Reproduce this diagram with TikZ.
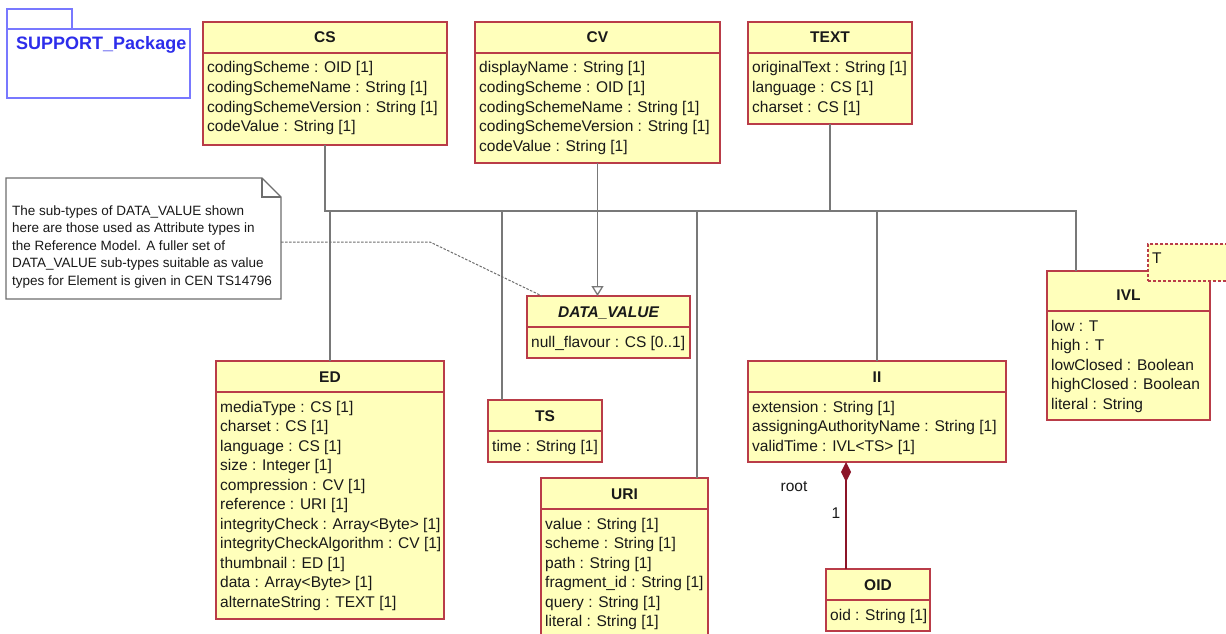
\documentclass[tikz,border=0pt]{standalone}
\usepackage{fontspec}
\setmainfont{Liberation Sans}
\usetikzlibrary{arrows.meta,calc}
\definecolor{clsfill}{RGB}{255,255,187}
\definecolor{clsborder}{RGB}{185,60,72}
\definecolor{conn}{RGB}{120,120,120}
\definecolor{pkgblue}{RGB}{120,120,255}
\definecolor{pkgtext}{RGB}{45,45,235}
\definecolor{compred}{RGB}{140,20,40}
\definecolor{txt}{RGB}{25,25,25}
\definecolor{notegray}{RGB}{110,110,110}
\tikzset{
  clsbox/.style={draw=clsborder, fill=clsfill, line width=1.4pt, rectangle, inner sep=0pt, outer sep=0pt, anchor=north west},
  tmplbox/.style={clsbox, dashed, dash pattern=on 3pt off 2pt},
  hdrline/.style={draw=clsborder, line width=1.2pt},
  clstitle/.style={font=\fontsize{15.5}{18}\selectfont\bfseries, text=txt, inner sep=0pt, anchor=base},
  attr/.style={font=\fontsize{15.5}{18}\selectfont, text=txt, inner sep=0pt, anchor=base west},
  notetxt/.style={font=\fontsize{13.5}{16}\selectfont, text=txt, inner sep=0pt, anchor=base west},
  gen/.style={draw=conn, line width=1.3pt},
  noteline/.style={draw=notegray, line width=1pt, dash pattern=on 2.5pt off 1.5pt},
  notebox/.style={draw=notegray, fill=white, line width=1.2pt},
  compline/.style={draw=compred, line width=1.4pt},
  pkgline/.style={draw=pkgblue, line width=1.3pt},
  holder/.style={inner sep=0pt, outer sep=0pt, anchor=north west, rectangle},
  lbl/.style={font=\fontsize{15.5}{18}\selectfont, text=txt, inner sep=0pt}
}
\newcommand{\umlclass}[9]{%
  \node[clsbox, minimum width=#4pt, minimum height=#5pt] (#1) at (#2,#3) {};
  \draw[hdrline] ($(#1.north west)+(0,#6)$) -- ($(#1.north east)+(0,#6)$);
  \node[clstitle] (#1-title) at ($(#1.north)+(0,{#6/2+5.5+#9})$) {#7};
  \foreach \a [count=\k from 0] in {#8} {
    \node[attr] (#1-a\k) at ($(#1.north west)+(4,{#6+20+\k*19.5})$) {\a};
  }%
}
\begin{document}
\begin{tikzpicture}[x=1pt,y=-1pt]
\clip (0,0) rectangle (1226,634);
\fill[white] (0,0) rectangle (1226,634);

% package
\node[holder, minimum width=183pt, minimum height=69pt] (pkg) at (7,29) {};
\draw[pkgline] (pkg.north west) rectangle (pkg.south east);
\draw[pkgline] (pkg.north west) rectangle ($(pkg.north west)+(65,-20)$);
\node[font=\fontsize{18}{20}\selectfont\bfseries, text=pkgtext, inner sep=0pt, anchor=base west] (pkgname) at ($(pkg.north west)+(9,20.5)$) {SUPPORT\_Package};

% note
\node[holder, minimum width=275pt, minimum height=121pt] (note) at (6,178) {};
\draw[notebox] (note.north west) -- ($(note.north east)+(-19,0)$) -- ($(note.north east)+(0,19)$) -- (note.south east) -- (note.south west) -- cycle;
\draw[draw=notegray, line width=1.2pt] ($(note.north east)+(-19,0)$) -- ($(note.north east)+(-19,19)$) -- ($(note.north east)+(0,19)$);
\foreach \a [count=\k from 0] in {{The sub-types of DATA\_VALUE shown},{here are those used as Attribute types in},{the Reference Model. A fuller set of},{DATA\_VALUE sub-types suitable as value},{types for Element is given in CEN TS14796}} {
  \node[notetxt] (note-l\k) at ($(note.north west)+(6,{37+\k*17.5})$) {\a};
}

% classes
\umlclass{cs}{203}{22}{244}{123}{31}{CS}{{codingScheme : OID [1]},{codingSchemeName : String [1]},{codingSchemeVersion : String [1]},{codeValue : String [1]}}{0}
\umlclass{cv}{475}{22}{245}{141}{31}{CV}{{displayName : String [1]},{codingScheme : OID [1]},{codingSchemeName : String [1]},{codingSchemeVersion : String [1]},{codeValue : String [1]}}{0}
\umlclass{text}{748}{22}{164}{102}{31}{TEXT}{{originalText : String [1]},{language : CS [1]},{charset : CS [1]}}{0}
\umlclass{dv}{527}{296}{163}{62}{31}{\itshape DATA\_VALUE}{{null\_flavour : CS [0..1]}}{0}
\umlclass{ed}{216}{361}{228}{258}{31}{ED}{{mediaType : CS [1]},{charset : CS [1]},{language : CS [1]},{size : Integer [1]},{compression : CV [1]},{reference : URI [1]},{integrityCheck : Array<Byte> [1]},{integrityCheckAlgorithm : CV [1]},{thumbnail : ED [1]},{data : Array<Byte> [1]},{alternateString : TEXT [1]}}{0}
\umlclass{ts}{488}{400}{114}{62}{31}{TS}{{time : String [1]}}{0}
\umlclass{uri}{541}{478}{167}{170}{31}{URI}{{value : String [1]},{scheme : String [1]},{path : String [1]},{fragment\_id : String [1]},{query : String [1]},{literal : String [1]}}{0}
\umlclass{ii}{748}{361}{258}{101}{31}{II}{{extension : String [1]},{assigningAuthorityName : String [1]},{validTime : IVL<TS> [1]}}{0}
\umlclass{oid}{826}{569}{104}{62}{31}{OID}{{oid : String [1]}}{0}
\umlclass{ivl}{1047}{271}{163}{149}{40}{IVL}{{low : T},{high : T},{lowClosed : Boolean},{highClosed : Boolean},{literal : String}}{4}
\node[tmplbox, minimum width=84pt, minimum height=37pt] (tmpl) at (1148,244) {};
\node[attr] (tmpl-t) at ($(tmpl.north west)+(4,19)$) {T};

% generalization tree
\coordinate (busy) at (0,211);
\coordinate (ivlin) at ($(ivl.north west)+(29,0)$);
\coordinate (tsin) at ($(ts.north west)+(14,0)$);
\coordinate (uriin) at ($(uri.north east)+(-11,0)$);
\coordinate (dvin) at (cv.south |- dv.north);
\draw[gen] (cs.south) |- (ivlin |- busy) -- (ivlin);
\draw[gen] (text.south) -- (text.south |- busy);
\draw[gen] (ed.north |- busy) -- (ed.north);
\draw[gen] (tsin |- busy) -- (tsin);
\draw[gen] (uriin |- busy) -- (uriin);
\draw[gen] (ii.north |- busy) -- (ii.north);
\draw[gen, -{Triangle[open, width=12pt, length=10pt, fill=white]}] (cv.south) -- (dvin);

% note link
\coordinate (bend) at (430,242);
\draw[noteline] ($(note.north east)+(0,64)$) -- (bend) -- ($(dv.north west)+(15,0)$);

% composition
\coordinate (oidin) at ($(oid.north west)+(20,0)$);
\coordinate (iiout) at ($(ii.south west)+(98,0)$);
\draw[compline, -{Diamond[width=10pt, length=20pt, fill=compred]}] (oidin) -- (iiout);
\node[lbl] (rootlbl) at (794,487) {root};
\node[lbl] (onelbl) at (836,513) {1};
\end{tikzpicture}
\end{document}
